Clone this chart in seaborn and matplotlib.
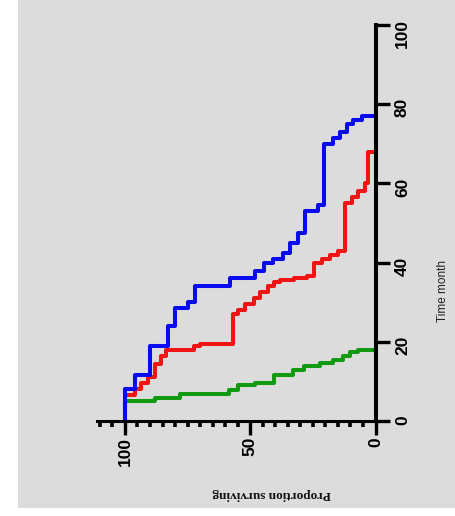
import matplotlib
matplotlib.use("Agg")
import matplotlib.pyplot as plt
from matplotlib.patches import Rectangle
from matplotlib.ticker import MultipleLocator, FixedLocator
import pandas as pd
import seaborn as sns

# Kaplan-Meier steps: event time (months) and proportion surviving after it
blue_time = [8, 11.5, 19, 24, 28.5, 30, 34, 36, 38, 40, 41, 42.5, 45, 47.5,
             53, 54.5, 70, 71.5, 73, 75, 76, 77]
blue_surv = [96, 90, 83, 80, 75, 72, 58, 48, 44.5, 41, 37, 34, 31, 28,
             23, 20.5, 17, 14, 11.5, 9, 5.5, 0]

red_time = [6.5, 8, 9.5, 11, 14.5, 16.5, 18, 19, 19.5, 27, 28, 29.5, 31, 32.5,
            34, 35, 35.5, 36, 36.5, 40, 41, 42, 43, 55, 56.5, 58, 60, 68]
red_surv = [96, 93.5, 91, 88, 85.5, 83.5, 72.5, 70, 57, 55, 52, 48.5, 46, 43,
            40.5, 38, 32.5, 27.5, 24.5, 21.5, 18, 15, 12, 9.5, 7, 4, 3, 0]

green_time = [5, 5.7, 6.8, 7.8, 9, 9.7, 11.6, 13, 14, 14.6, 15.4, 16.3, 17.5, 18]
green_surv = [88, 78, 58.5, 55, 48, 40.5, 33, 28.5, 22, 17, 13, 10, 7, 0]

time_ticks = [0, 20, 40, 60, 80, 100]
surv_ticks = [0, 50, 100]


def staircase(times, surv, group):
    """Vertices of a survival step curve, time on the vertical axis."""
    xs, ys = [100.0], [0.0]
    prev = 100.0
    for t, s in zip(times, surv):
        xs += [prev, s]
        ys += [t, t]
        prev = s
    return pd.DataFrame({"surv": xs, "time": ys, "group": group})


df = pd.concat([
    staircase(green_time, green_surv, "green"),
    staircase(red_time, red_surv, "red"),
    staircase(blue_time, blue_surv, "blue"),
], ignore_index=True)

sns.set_style("ticks")
plt.rcParams["font.family"] = ["Liberation Sans", "DejaVu Sans"]

W, H = 456, 516
fig = plt.figure(figsize=(W / 100, H / 100), dpi=100)
fig.patch.set_facecolor("white")
fig.patches.append(Rectangle((18 / W, 8 / H), 1, 1, transform=fig.transFigure,
                             facecolor="#dcdcdc", edgecolor="none", zorder=-10))

ax = fig.add_axes([97.4 / W, 95 / H, 278.1 / W, 396 / H])
ax.set_facecolor("none")

sns.lineplot(data=df, x="surv", y="time", hue="group",
             hue_order=["green", "red", "blue"],
             palette={"green": "#129a12", "red": "#f01414", "blue": "#0a0af0"},
             sort=False, estimator=None, linewidth=2.9, legend=False, ax=ax)

ax.set_xlim(111, 0)
ax.set_ylim(0, 100)
ax.set_xlabel("")
ax.set_ylabel("")

for side in ("left", "top"):
    ax.spines[side].set_visible(False)
ax.spines["right"].set_visible(True)
ax.spines["right"].set_linewidth(2.9)
ax.spines["bottom"].set_linewidth(2.2)
for side in ("right", "bottom"):
    ax.spines[side].set_color("black")

ax.yaxis.tick_right()
ax.yaxis.set_major_locator(FixedLocator(time_ticks))
ax.xaxis.set_major_locator(FixedLocator(surv_ticks))
ax.xaxis.set_minor_locator(MultipleLocator(5))

ax.tick_params(axis="y", which="major", direction="out", length=10, width=2.4,
               pad=4, labelsize=12.5, labelrotation=90, colors="black")
ax.tick_params(axis="x", which="major", direction="out", length=10, width=2.4,
               pad=1.5, labelsize=12.5, labelrotation=90, colors="black")
ax.tick_params(axis="x", which="minor", direction="out", length=4.5, width=2.6,
               colors="black")

for lab in ax.get_yticklabels() + ax.get_xticklabels():
    lab.set_fontweight("bold")
    lab.set_family(["Liberation Sans", "DejaVu Sans"])

fig.text(443 / W, 1 - 291 / H, "Time month", rotation=90, ha="center",
         va="center", fontsize=8.5, color="#222222",
         family=["Liberation Sans", "DejaVu Sans"])
fig.text(272 / W, 1 - 494 / H, "Proportion surviving", rotation=180,
         ha="center", va="center", fontsize=9.5, fontweight="bold",
         color="#111111", family=["Liberation Serif", "DejaVu Serif"])

fig.savefig("out.png", dpi=100, facecolor=fig.get_facecolor())
